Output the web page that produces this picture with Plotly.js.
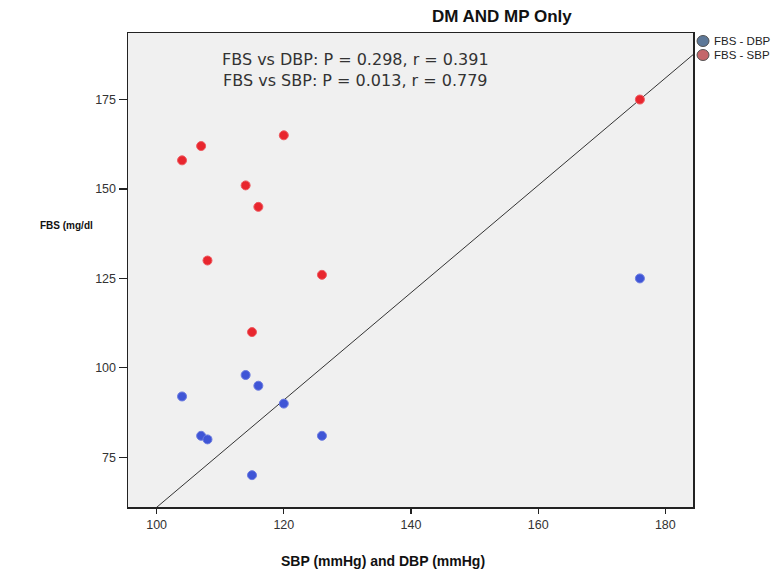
<!DOCTYPE html>
<html>
<head>
<meta charset="utf-8">
<script src="https://cdn.plot.ly/plotly-3.0.1.min.js"></script>
<style>html,body{margin:0;padding:0;background:#fff;}#chart{width:777px;height:571px;}</style>
</head>
<body>
<div id="chart"></div>
<script>
// Data
const bpValues = [104, 107, 108, 114, 115, 116, 120, 126, 176];
const fbsDBP   = [92, 81, 80, 98, 70, 95, 90, 81, 125];
const fbsSBP   = [158, 162, 130, 151, 110, 145, 165, 126, 175];
const seriesNames = ["FBS - DBP", "FBS - SBP"];
const seriesColors = ["#3f55d6", "#e8262e"];
const legendColors = ["#5d7898", "#c4676b"];
const refLineX = [95.5, 184.4];
const refSlope = 1.5;
const refIntercept = -89;
const xTicks = [100, 120, 140, 160, 180];
const yTicks = [75, 100, 125, 150, 175];
const statsLines = ["FBS vs DBP: P = 0.298, r = 0.391", "FBS vs SBP: P = 0.013, r = 0.779"];

const refLineY = refLineX.map(x => refSlope * x + refIntercept);
const FONT = 'Liberation Sans, Arial, sans-serif';

const traces = [
  {x: refLineX, y: refLineY, mode: 'lines', line: {color: '#333', width: 1}, showlegend: false, hoverinfo: 'skip'},
  {x: bpValues, y: fbsDBP, mode: 'markers', name: seriesNames[0],
   marker: {color: seriesColors[0], size: 9, line: {color: '#6b7be0', width: 1}}},
  {x: bpValues, y: fbsSBP, mode: 'markers', name: seriesNames[1],
   marker: {color: seriesColors[1], size: 9, line: {color: '#ee5a60', width: 1}}}
];

const axisCommon = {
  showgrid: false, zeroline: false, showline: true, linecolor: '#222', linewidth: 1.5,
  mirror: true, ticks: 'outside', tickcolor: '#222', tickwidth: 1.2,
  tickfont: {family: FONT, size: 12.5, color: '#333'}
};

// legend built from shapes + annotations so it can overflow the right edge like the reference
const legendShapes = seriesNames.map((n, i) => ({
  type: 'circle', xref: 'paper', yref: 'paper', xsizemode: 'pixel', ysizemode: 'pixel',
  xanchor: 1.0177, yanchor: 1, x0: -6, x1: 6, y0: -8 - 14 * i - 5.5, y1: -8 - 14 * i + 5.5,
  fillcolor: legendColors[i], line: {color: '#555', width: 1}
}));
const legendTexts = seriesNames.map((n, i) => ({
  text: n, xref: 'paper', yref: 'paper', x: 1, xshift: 19, y: 1, yshift: -8 - 14 * i,
  showarrow: false, xanchor: 'left', yanchor: 'middle',
  font: {family: FONT, size: 11.5, color: '#222'}
}));

const layout = {
  width: 777, height: 571,
  margin: {l: 128, r: 84, t: 33, b: 64},
  paper_bgcolor: '#ffffff', plot_bgcolor: '#f0f0f0',
  xaxis: Object.assign({}, axisCommon, {range: [95.5, 184.35], tickvals: xTicks, ticklen: 5}),
  yaxis: Object.assign({}, axisCommon, {range: [61.1, 193.6], tickvals: yTicks, ticklen: 8}),
  showlegend: false,
  shapes: legendShapes,
  annotations: [
    {text: '<b>DM AND MP Only</b>', xref: 'paper', yref: 'paper', x: 0.662, y: 1.0, yshift: 17,
     showarrow: false, xanchor: 'center', yanchor: 'middle',
     font: {family: FONT, size: 17, color: '#111'}},
    {text: statsLines.join('<br>'), xref: 'paper', yref: 'paper', x: 0.403, y: 1, yshift: -37,
     showarrow: false, xanchor: 'center', yanchor: 'middle', align: 'center',
     font: {family: 'DejaVu Sans, sans-serif', size: 16, color: '#333'}},
    {text: '<b>FBS (mg/dl</b>', xref: 'paper', yref: 'paper', x: 0, xshift: -90, y: 0.594,
     showarrow: false, xanchor: 'left', yanchor: 'middle',
     font: {family: FONT, size: 10, color: '#111'}},
    {text: '<b>SBP (mmHg) and DBP (mmHg)</b>', xref: 'paper', yref: 'paper', x: 0.451, y: 0, yshift: -54,
     showarrow: false, xanchor: 'center', yanchor: 'middle',
     font: {family: FONT, size: 14, color: '#111'}}
  ].concat(legendTexts)
};

Plotly.newPlot('chart', traces, layout, {displayModeBar: false, staticPlot: true});
</script>
</body>
</html>
